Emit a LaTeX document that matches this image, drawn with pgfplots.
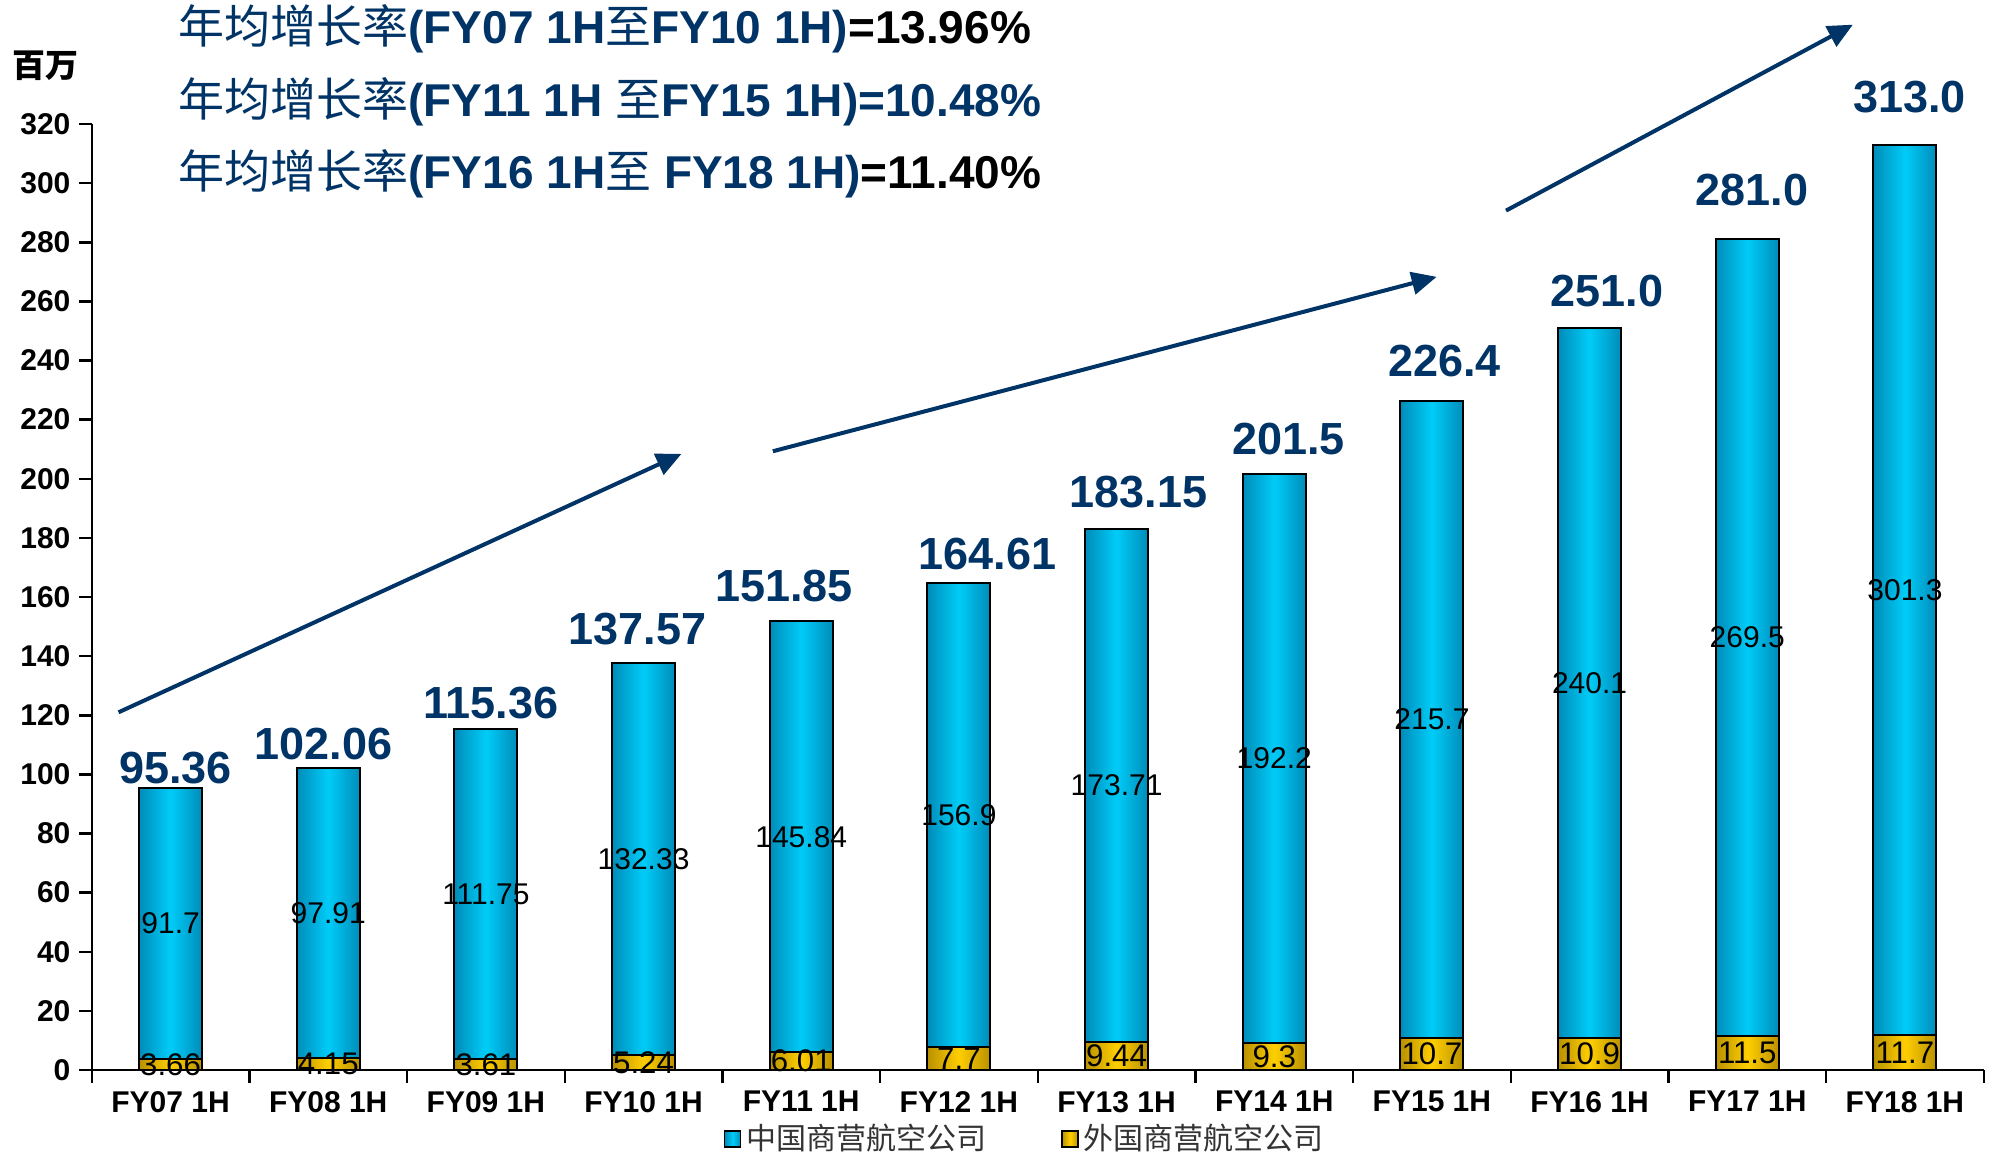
\documentclass[border=0pt]{standalone}
\usepackage{fontspec}
\setmainfont{Liberation Sans}
\newfontfamily\cjk{Noto Sans CJK SC}
\usepackage{pgfplots}
\usepackage{pgfplotstable}
\pgfplotsset{compat=1.18}
\usetikzlibrary{arrows.meta}
\definecolor{navy}{RGB}{0,51,102}
\definecolor{bluemid}{RGB}{0,204,248}
\definecolor{blueedge}{RGB}{0,140,185}
\definecolor{yelmid}{RGB}{255,206,0}
\definecolor{yeledge}{RGB}{185,145,0}

% x: category, dom: Chinese carriers, for: foreign carriers, tot: total
% lx/ly: where the total label sits
\pgfplotstableread{
x dom for tot lx ly
0 91.7 3.66 95.36 0.03 102.1
1 97.91 4.15 102.06 0.97 110.2
2 111.75 3.61 115.36 2.03 124.0
3 132.33 5.24 137.57 2.96 149.0
4 145.84 6.01 151.85 3.89 163.7
5 156.9 7.7 164.61 5.18 174.5
6 173.71 9.44 183.15 6.14 195.5
7 192.2 9.3 201.5 7.09 213.6
8 215.7 10.7 226.4 8.08 239.9
9 240.1 10.9 251.0 9.11 263.5
10 269.5 11.5 281.0 10.03 297.6
11 301.3 11.7 313.0 11.03 329.0
}\datatable

\pgfplotsset{
  blueshade/.style={draw=black, line width=0.8pt, left color=blueedge, right color=blueedge, middle color=bluemid},
  yelshade/.style={draw=black, line width=0.8pt, left color=yeledge, right color=yeledge, middle color=yelmid},
}

\begin{document}
\begin{tikzpicture}
\useasboundingbox (-36.7pt,-33.6pt) rectangle (761.3pt,428pt);
\begin{axis}[
  at={(0pt,0pt)}, anchor=south west,
  scale only axis, width=756.8pt, height=378.4pt,
  ybar, bar width=0.4,
  xmin=-0.5, xmax=11.5, ymin=0, ymax=320,
  enlargelimits=false, clip=false,
  axis x line*=bottom, axis y line*=left,
  axis line style={-, line width=1pt},
  tick style={black, line width=1pt},
  tick align=outside, major tick length=5pt,
  ytick={0,20,...,320},
  xtick={-0.5,0.5,1.5,2.5,3.5,4.5,5.5,6.5,7.5,8.5,9.5,10.5,11.5},
  xticklabels={FY07 1H,FY08 1H,FY09 1H,FY10 1H,FY11 1H,FY12 1H,FY13 1H,FY14 1H,FY15 1H,FY16 1H,FY17 1H,FY18 1H},
  x tick label as interval,
  /pgf/number format/assume math mode=true,
  ticklabel style={font=\fontsize{12}{14}\selectfont\bfseries},
  legend columns=2,
  legend style={at={(0.494,-0.073)}, anchor=center, draw=none, fill=none,
    font=\cjk\fontsize{12}{14}\selectfont, text=black!80,
    /tikz/every even column/.append style={column sep=28pt}},
  legend image code/.code={\draw[#1,draw=black,line width=0.6pt] (0pt,-3.2pt) rectangle (6.4pt,3.2pt);},
]
\addlegendimage{blueshade}
\addlegendentry{中国商营航空公司}
\addlegendimage{yelshade}
\addlegendentry{外国商营航空公司}

% one plot per bar, so each bar gets its own shading
\pgfplotsinvokeforeach{0,...,11}{
  \addplot[bar shift=0pt, blueshade, forget plot,
    restrict expr to domain={\coordindex}{#1:#1}]
    table[x=x, y=tot]{\datatable};
  \addplot[bar shift=0pt, yelshade, forget plot,
    restrict expr to domain={\coordindex}{#1:#1}]
    table[x=x, y=for]{\datatable};
}

% segment labels
\addplot[bar shift=0pt, draw=none, fill=none, forget plot,
  nodes near coords, point meta=explicit symbolic,
  every node near coord/.append style={anchor=center, text=black, font=\fontsize{12}{14}\selectfont}]
  table[x=x, y expr=\thisrow{for}+0.5*\thisrow{dom}, meta=dom]{\datatable};
\addplot[bar shift=0pt, draw=none, fill=none, forget plot,
  nodes near coords, point meta=explicit symbolic,
  every node near coord/.append style={anchor=center, text=black, font=\fontsize{12.5}{14}\selectfont}]
  table[x=x, y expr=0.5*\thisrow{for}, meta=for]{\datatable};
% totals
\addplot[bar shift=0pt, draw=none, fill=none, forget plot,
  nodes near coords, point meta=explicit symbolic,
  every node near coord/.append style={anchor=center, text=navy, font=\fontsize{18}{20}\selectfont\bfseries}]
  table[x=lx, y=ly, meta=tot]{\datatable};

\draw[navy, line width=1.6pt, -{Triangle[length=10pt,width=9pt]}] (axis cs:-0.33,121) -- (axis cs:3.24,208.4);
\draw[navy, line width=1.6pt, -{Triangle[length=10pt,width=9pt]}] (axis cs:3.82,209.3) -- (axis cs:8.03,268.3);
\draw[navy, line width=1.6pt, -{Triangle[length=10pt,width=9pt]}] (axis cs:8.47,290.7) -- (axis cs:10.67,353.6);
\end{axis}

\node[anchor=center, font=\cjk\bfseries\fontsize{13.2}{15}\selectfont] at (-18.3pt,401.6pt) {百万};
\node[anchor=west, inner sep=0pt, text=navy, font=\fontsize{18.4}{21}\selectfont] at (34.5pt,416.4pt)
  {{\cjk 年均增长率}\textbf{(FY07 1H}{\cjk 至}\textbf{FY10 1H)}\textcolor{black}{\textbf{=13.96\%}}};
\node[anchor=west, inner sep=0pt, text=navy, font=\fontsize{18.4}{21}\selectfont] at (34.5pt,387.2pt)
  {{\cjk 年均增长率}\textbf{(FY11 1H }{\cjk 至}\textbf{FY15 1H)=10.48\%}};
\node[anchor=west, inner sep=0pt, text=navy, font=\fontsize{18.4}{21}\selectfont] at (34.5pt,358.4pt)
  {{\cjk 年均增长率}\textbf{(FY16 1H}{\cjk 至}\textbf{ FY18 1H)}\textcolor{black}{\textbf{=11.40\%}}};
\end{tikzpicture}
\end{document}
